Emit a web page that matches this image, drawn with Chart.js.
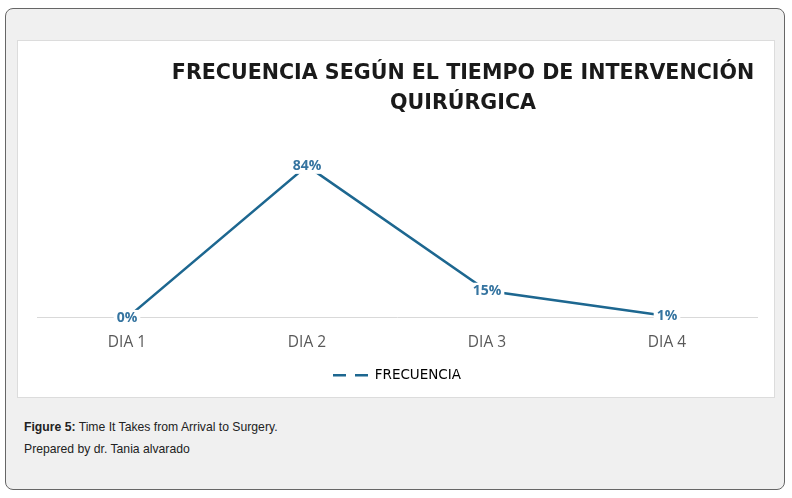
<!DOCTYPE html>
<html>
<head>
<meta charset="utf-8">
<script src="https://cdn.jsdelivr.net/npm/chart.js@4"></script>
<style>
  body { margin: 0; background: #fff; width: 792px; height: 498px; overflow: hidden; }
  .card {
    position: absolute; left: 5px; top: 8px; width: 778px; height: 480px;
    border: 1px solid #666; border-radius: 8px; background: #f0f0f0;
  }
  .panel {
    position: absolute; left: 17px; top: 40px; width: 756px; height: 356px;
    border: 1px solid #dcdcdc; background: #fff;
  }
  .title {
    position: absolute; left: 113px; width: 700px; text-align: center;
    font-family: "DejaVu Sans", sans-serif; font-weight: bold; font-size: 20.6px;
    color: #1a1a1a; line-height: 30px; top: 57px;
  }
  .panel canvas { position: absolute; left: 0; top: 0; }
  .caption {
    position: absolute; left: 24px; font-family: "Liberation Sans", Arial, sans-serif;
    font-size: 12.2px; color: #222;
  }
</style>
</head>
<body>
<div class="card"></div>
<div class="panel"><canvas id="lineChart" width="756" height="356"></canvas></div>
<div class="title">FRECUENCIA SEGÚN EL TIEMPO DE INTERVENCIÓN<br>QUIRÚRGICA</div>
<div class="caption" style="top:420px"><b>Figure 5:</b> Time It Takes from Arrival to Surgery.</div>
<div class="caption" style="top:442px">Prepared by dr. Tania alvarado</div>
<script>
const days = ['DIA 1', 'DIA 2', 'DIA 3', 'DIA 4'];
const frecuencia = [0, 84, 15, 1];
const seriesName = 'FRECUENCIA';

const lineColor = '#1d6790';
const labelColor = '#3574a0';

// percent labels sitting on top of each point, white box behind
const pointLabels = {
    id: 'pointLabels',
    afterDatasetsDraw(chart) {
        const ctx = chart.ctx;
        const meta = chart.getDatasetMeta(0);
        ctx.save();
        ctx.font = 'bold 14px "Open Sans", sans-serif';
        ctx.textAlign = 'center';
        ctx.textBaseline = 'middle';
        meta.data.forEach((pt, i) => {
            const txt = frecuencia[i] + '%';
            const w = ctx.measureText(txt).width;
            ctx.fillStyle = '#fff';
            ctx.fillRect(pt.x - w / 2 - 3, pt.y - 8, w + 6, 16);
            ctx.fillStyle = labelColor;
            ctx.fillText(txt, pt.x, pt.y);
        });
        ctx.restore();
    }
};

const ctx = document.getElementById('lineChart').getContext('2d');
new Chart(ctx, {
    type: 'line',
    data: {
        labels: days,
        datasets: [{
            label: seriesName,
            data: frecuencia,
            borderColor: lineColor,
            backgroundColor: lineColor,
            borderWidth: 2.5,
            pointRadius: 0,
            tension: 0
        }]
    },
    options: {
        responsive: false,
        animation: false,
        layout: { padding: { top: 114, left: 19, right: 17, bottom: 5 } },
        scales: {
            x: {
                offset: true,
                grid: { display: false },
                border: { color: '#d9d9d9', width: 1 },
                ticks: { color: '#595959', font: { family: 'Open Sans', size: 15.5 }, padding: 7 }
            },
            y: {
                display: false,
                min: 0,
                max: 90
            }
        },
        plugins: {
            legend: {
                position: 'bottom',
                labels: {
                    usePointStyle: true,
                    pointStyleWidth: 35,
                    color: '#595959',
                    font: { family: 'DejaVu Sans', size: 13.5 },
                    padding: 10,
                    generateLabels: (chart) => [{
                        text: seriesName,
                        pointStyle: 'line',
                        strokeStyle: lineColor,
                        fillStyle: lineColor,
                        lineWidth: 2.5,
                        lineDash: [13, 9],
                        datasetIndex: 0
                    }]
                }
            },
            tooltip: { enabled: false }
        }
    },
    plugins: [pointLabels]
});
</script>
</body>
</html>
